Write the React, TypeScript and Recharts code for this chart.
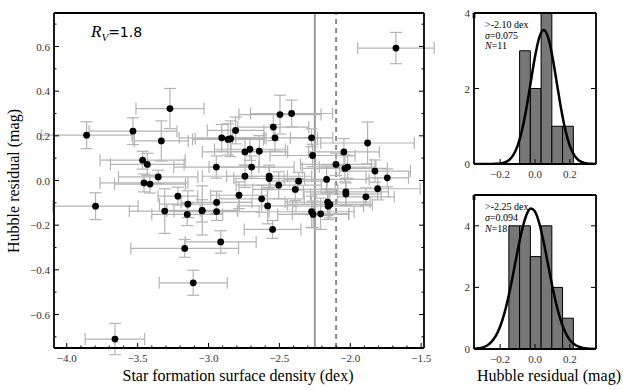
import React from 'react';
import {
  ScatterChart,
  Scatter,
  ErrorBar,
  XAxis,
  YAxis,
  ReferenceLine,
  ReferenceArea,
  ComposedChart,
  Line,
} from 'recharts';

// star formation surface density (dex) vs Hubble residual (mag)
const sfDensity = [
  -3.86, -3.533, -3.272, -3.333, -3.465, -3.432, -3.355, -3.455, -3.413, -3.797,
  -3.216, -3.146, -3.309, -3.15, -3.044, -2.943, -2.943, -2.914, -3.168, -3.108,
  -3.66, -2.945, -2.907, -2.863, -2.844, -2.809, -2.496, -2.414, -2.543, -2.531,
  -2.273, -2.743, -2.708, -2.642, -2.266, -1.878, -2.045, -2.696, -2.101, -2.038,
  -2.019, -1.826, -1.739, -2.743, -2.572, -2.572, -2.505, -2.364, -2.388, -2.167,
  -1.807, -2.031, -2.031, -1.89, -2.785, -2.625, -2.583, -2.548, -2.273, -2.262,
  -2.209, -2.16, -2.144, -2.156, -1.678, -3.046,
];
const hubbleResid = [
  0.203, 0.221, 0.322, 0.177, 0.091, 0.072, 0.016, -0.011, -0.016, -0.115,
  -0.07, -0.106, -0.137, -0.152, -0.134, -0.098, -0.139, -0.275, -0.304, -0.458,
  -0.71, 0.06, 0.191, 0.184, 0.187, 0.224, 0.295, 0.3, 0.239, 0.191,
  0.191, 0.128, 0.14, 0.131, 0.112, 0.168, 0.128, 0.06, 0.072, 0.054,
  0.06, 0.042, 0.012, 0.019, 0.019, 0.009, -0.021, -0.003, -0.04, 0.005,
  -0.037, -0.051, -0.061, -0.073, -0.066, -0.082, -0.114, -0.219, -0.14, -0.152,
  -0.149, -0.097, -0.107, -0.115, 0.593, -0.136,
];
const sfDensityErr = [
  0.32, 0.31, 0.24, 0.19, 0.3, 0.26, 0.28, 0.31, 0.25, 0.3,
  0.14, 0.2, 0.25, 0.25, 0.25, 0.25, 0.3, 0.25, 0.38, 0.24,
  0.21, 0.3, 0.3, 0.25, 0.25, 0.2, 0.29, 0.29, 0.25, 0.3,
  0.15, 0.3, 0.25, 0.2, 0.3, 0.33, 0.25, 0.3, 0.25, 0.3,
  0.2, 0.25, 0.15, 0.3, 0.3, 0.25, 0.3, 0.2, 0.3, 0.3,
  0.3, 0.3, 0.25, 0.2, 0.2, 0.3, 0.2, 0.2, 0.3, 0.25,
  0.2, 0.3, 0.3, 0.25, 0.27, 0.25,
];
const hubbleResidErr = [
  0.06, 0.06, 0.09, 0.09, 0.04, 0.05, 0.03, 0.04, 0.04, 0.06,
  0.04, 0.06, 0.1, 0.05, 0.11, 0.05, 0.04, 0.05, 0.04, 0.056,
  0.07, 0.05, 0.06, 0.07, 0.08, 0.06, 0.087, 0.06, 0.06, 0.06,
  0.04, 0.06, 0.05, 0.07, 0.05, 0.094, 0.06, 0.05, 0.05, 0.06,
  0.05, 0.05, 0.04, 0.05, 0.05, 0.05, 0.06, 0.04, 0.05, 0.06,
  0.05, 0.06, 0.05, 0.04, 0.06, 0.06, 0.08, 0.04, 0.07, 0.06,
  0.07, 0.06, 0.06, 0.06, 0.07, 0.05,
];

// histograms of Hubble residual
const binEdges = [-0.15, -0.0883, -0.0267, 0.035, 0.0967, 0.1583, 0.22];
const countsAbove210 = [0, 3, 2, 4, 1, 1];
const countsAbove225 = [4, 4, 3, 4, 2, 1];

// gaussian curves as drawn
const gaussX = [
  -0.35, -0.325, -0.3, -0.275, -0.25, -0.225, -0.2, -0.175, -0.15, -0.125,
  -0.1, -0.075, -0.05, -0.025, 0, 0.025, 0.05, 0.075, 0.1, 0.125,
  0.15, 0.175, 0.2, 0.225, 0.25, 0.275, 0.3, 0.325, 0.35,
];
const gaussAbove210 = [
  0, 0, 0, 0, 0.001, 0.004, 0.014, 0.039, 0.101, 0.233,
  0.48, 0.885, 1.459, 2.153, 2.843, 3.358, 3.55, 3.358, 2.843, 2.153,
  1.459, 0.885, 0.48, 0.233, 0.101, 0.039, 0.014, 0.004, 0.001,
];
const gaussAbove225 = [
  0.01, 0.024, 0.054, 0.115, 0.229, 0.424, 0.731, 1.174, 1.756, 2.449,
  3.182, 3.851, 4.343, 4.564, 4.468, 4.075, 3.463, 2.742, 2.023, 1.391,
  0.891, 0.531, 0.295, 0.153, 0.074, 0.033, 0.014, 0.005, 0.002,
];

// ticks
const mainXTicks = [
  -4.0, -3.9, -3.8, -3.7, -3.6, -3.5, -3.4, -3.3, -3.2, -3.1, -3.0, -2.9, -2.8,
  -2.7, -2.6, -2.5, -2.4, -2.3, -2.2, -2.1, -2.0, -1.9, -1.8, -1.7, -1.6, -1.5,
];
const mainXMajor = [-4.0, -3.5, -3.0, -2.5, -2.0, -1.5];
const mainYTicks = [-0.7, -0.6, -0.5, -0.4, -0.3, -0.2, -0.1, 0, 0.1, 0.2, 0.3, 0.4, 0.5, 0.6, 0.7];
const mainYMajor = [-0.6, -0.4, -0.2, 0, 0.2, 0.4, 0.6];
const histXTicks = [-0.2, 0, 0.2];
const histYTicks = [0, 2, 4];

const serif = '"Liberation Serif", "DejaVu Serif", serif';
const frame = { stroke: '#000', strokeWidth: 1.8 };

const fmtSigned = (d: number) => (v: number) => (v < 0 ? '\u2212' : '') + Math.abs(v).toFixed(d);
const fmtInt = (v: number) => String(v);

type Side = 'bottom' | 'top' | 'left' | 'right';

// draws matplotlib-like inward ticks (major + minor) and labels for majors
function makeTick(side: Side, majors: number[], fmt?: (v: number) => string) {
  return (props: any) => {
    const { x, y, payload } = props;
    const v = Number(payload.value);
    const major = majors.some((m) => Math.abs(m - v) < 1e-9);
    const len = major ? 5 : 2.5;
    const dx = side === 'left' ? len : side === 'right' ? -len : 0;
    const dy = side === 'bottom' ? -len : side === 'top' ? len : 0;
    const label = major && fmt ? fmt(v) : null;
    return (
      <g>
        <line x1={x} y1={y} x2={x + dx} y2={y + dy} stroke="#000" strokeWidth={1} />
        {label && side === 'bottom' && (
          <text x={x} y={y + 14} textAnchor="middle" fontFamily={serif} fontSize={11} fill="#333">
            {label}
          </text>
        )}
        {label && side === 'left' && (
          <text x={x - 4} y={y + 4} textAnchor="end" fontFamily={serif} fontSize={11} fill="#333">
            {label}
          </text>
        )}
      </g>
    );
  };
}

const points = sfDensity.map((x, i) => ({
  x,
  y: hubbleResid[i],
  xe: sfDensityErr[i],
  ye: hubbleResidErr[i],
}));

const MainPlot = () => (
  <div style={{ position: 'absolute', left: 0, top: 0 }}>
    <ScatterChart width={440} height={390} margin={{ top: 8, right: 11, bottom: 12, left: 0 }}>
      <XAxis
        xAxisId="b"
        type="number"
        dataKey="x"
        domain={[-4.09, -1.48]}
        allowDataOverflow
        ticks={mainXTicks}
        interval={0}
        tick={makeTick('bottom', mainXMajor, fmtSigned(1))}
        tickLine={false}
        tickSize={0}
        tickMargin={0}
        height={30}
        axisLine={frame}
      />
      <XAxis
        xAxisId="t"
        orientation="top"
        type="number"
        domain={[-4.09, -1.48]}
        allowDataOverflow
        ticks={mainXTicks}
        interval={0}
        tick={makeTick('top', mainXMajor)}
        tickLine={false}
        tickSize={0}
        tickMargin={0}
        height={5}
        axisLine={frame}
      />
      <YAxis
        yAxisId="l"
        type="number"
        dataKey="y"
        domain={[-0.75, 0.75]}
        allowDataOverflow
        ticks={mainYTicks}
        interval={0}
        tick={makeTick('left', mainYMajor, fmtSigned(1))}
        tickLine={false}
        tickSize={0}
        tickMargin={0}
        width={54}
        axisLine={frame}
      />
      <YAxis
        yAxisId="r"
        orientation="right"
        type="number"
        domain={[-0.75, 0.75]}
        allowDataOverflow
        ticks={mainYTicks}
        interval={0}
        tick={makeTick('right', mainYMajor)}
        tickLine={false}
        tickSize={0}
        tickMargin={0}
        width={5}
        axisLine={frame}
      />
      <ReferenceLine xAxisId="b" yAxisId="l" x={-2.25} stroke="#9a9a9a" strokeWidth={2} />
      <ReferenceLine xAxisId="b" yAxisId="l" x={-2.1} stroke="#8a8a8a" strokeWidth={2} strokeDasharray="5 4" />
      <Scatter
        xAxisId="b"
        yAxisId="l"
        data={points}
        isAnimationActive={false}
        shape={(p: any) => <circle cx={p.cx} cy={p.cy} r={3.4} fill="#000" />}
      >
        <ErrorBar dataKey="xe" direction="x" width={6} stroke="#b4b4b4" strokeWidth={1.2} />
        <ErrorBar dataKey="ye" direction="y" width={6} stroke="#b4b4b4" strokeWidth={1.2} />
      </Scatter>
    </ScatterChart>
  </div>
);

interface HistProps {
  top: number;
  height: number;
  margin: { top: number; right: number; bottom: number; left: number };
  counts: number[];
  gauss: number[];
  yMax: number;
}

const Histogram: React.FC<HistProps> = ({ top, height, margin, counts, gauss, yMax }) => {
  const rows = gaussX.map((x, i) => ({ x, g: gauss[i] }));
  return (
    <div style={{ position: 'absolute', left: 440, top }}>
      <ComposedChart width={183} height={height} data={rows} margin={margin}>
        <XAxis
          xAxisId="b"
          type="number"
          dataKey="x"
          domain={[-0.35, 0.35]}
          allowDataOverflow
          ticks={histXTicks}
          interval={0}
          tick={makeTick('bottom', histXTicks, fmtSigned(1))}
          tickLine={false}
          tickSize={0}
          tickMargin={0}
          height={20}
          axisLine={frame}
        />
        <XAxis
          xAxisId="t"
          orientation="top"
          type="number"
          domain={[-0.35, 0.35]}
          allowDataOverflow
          ticks={histXTicks}
          interval={0}
          tick={makeTick('top', histXTicks)}
          tickLine={false}
          tickSize={0}
          tickMargin={0}
          height={5}
          axisLine={frame}
        />
        <YAxis
          yAxisId="l"
          type="number"
          domain={[0, yMax]}
          allowDataOverflow
          ticks={histYTicks}
          interval={0}
          tick={makeTick('left', histYTicks, fmtInt)}
          tickLine={false}
          tickSize={0}
          tickMargin={0}
          width={34}
          axisLine={frame}
        />
        <YAxis
          yAxisId="r"
          orientation="right"
          type="number"
          domain={[0, yMax]}
          allowDataOverflow
          ticks={histYTicks}
          interval={0}
          tick={makeTick('right', histYTicks)}
          tickLine={false}
          tickSize={0}
          tickMargin={0}
          width={5}
          axisLine={frame}
        />
        {counts.map((c, i) =>
          c > 0 ? (
            <ReferenceArea
              key={i}
              xAxisId="b"
              yAxisId="l"
              x1={binEdges[i]}
              x2={binEdges[i + 1]}
              y1={0}
              y2={c}
              fill="#777777"
              fillOpacity={1}
              stroke="#000"
              strokeWidth={1}
            />
          ) : null
        )}
        <Line
          xAxisId="b"
          yAxisId="l"
          type="monotone"
          dataKey="g"
          stroke="#000"
          strokeWidth={2.5}
          dot={false}
          isAnimationActive={false}
        />
      </ComposedChart>
    </div>
  );
};

const Texts = () => (
  <svg
    width={623}
    height={390}
    style={{ position: 'absolute', left: 0, top: 0, pointerEvents: 'none' }}
  >
    <text x={91} y={37} fontFamily={serif} fontSize={17} fontStyle="italic">
      R
      <tspan fontSize={11} dy={4}>V</tspan>
      <tspan fontFamily='"DejaVu Sans", sans-serif' fontStyle="normal" fontSize={14} dy={-4}>
        =1.8
      </tspan>
    </text>
    <text
      x={19}
      y={181}
      transform="rotate(-90 19 181)"
      textAnchor="middle"
      fontFamily={serif}
      fontSize={16}
    >
      Hubble residual (mag)
    </text>
    <text x={238} y={381} textAnchor="middle" fontFamily={serif} fontSize={16}>
      Star formation surface density (dex)
    </text>
    <text x={549} y={381} textAnchor="middle" fontFamily={serif} fontSize={16}>
      Hubble residual (mag)
    </text>
    <g fontFamily={serif} fontSize={10}>
      <text x={485} y={28}>&gt;-2.10 dex</text>
      <text x={485} y={38.5}>
        <tspan fontStyle="italic">σ</tspan>=0.075
      </text>
      <text x={485} y={49}>
        <tspan fontStyle="italic">N</tspan>=11
      </text>
      <text x={485} y={210}>&gt;-2.25 dex</text>
      <text x={485} y={221}>
        <tspan fontStyle="italic">σ</tspan>=0.094
      </text>
      <text x={485} y={232}>
        <tspan fontStyle="italic">N</tspan>=18
      </text>
    </g>
  </svg>
);

export default function App() {
  return (
    <div style={{ position: 'absolute', left: 0, top: 0, width: 623, height: 390, background: '#fff' }}>
      <MainPlot />
      <Histogram
        top={0}
        height={190}
        margin={{ top: 8, right: 22, bottom: 6, left: 0 }}
        counts={countsAbove210}
        gauss={gaussAbove210}
        yMax={4}
      />
      <Histogram
        top={185}
        height={205}
        margin={{ top: 5, right: 22, bottom: 21, left: 0 }}
        counts={countsAbove225}
        gauss={gaussAbove225}
        yMax={5}
      />
      <Texts />
    </div>
  );
}
